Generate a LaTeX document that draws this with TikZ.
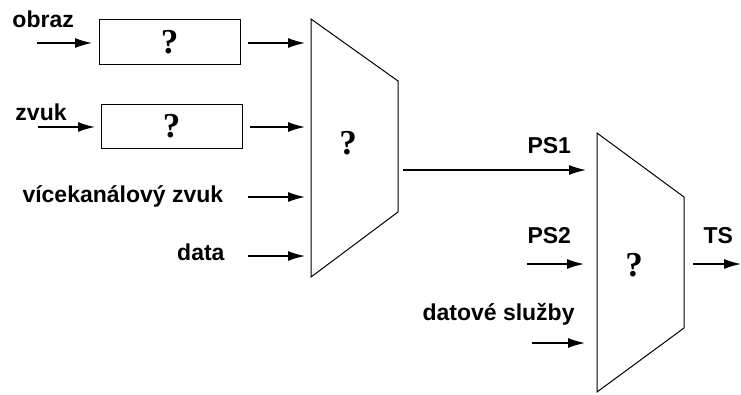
\documentclass[tikz,border=0pt]{standalone}
\usepackage{fontspec}
\setmainfont{Liberation Sans}
\newfontfamily\qfont{Liberation Serif}
\usetikzlibrary{arrows.meta}
\begin{document}
\begin{tikzpicture}[x=1pt,y=-1pt,line width=1pt,
  arr/.style={-{Latex[length=17pt,width=10pt]},line width=1.4pt},
  lbl/.style={font=\bfseries\fontsize{23}{25}\selectfont,inner sep=0pt},
  qm/.style={font=\qfont\bfseries\fontsize{35}{37}\selectfont,inner sep=0pt},
  blk/.style={draw,minimum width=141pt,minimum height=45pt,inner sep=0pt}]
\useasboundingbox (0,0) rectangle (741,394);
% blocks
\node[blk,qm] (b1) at (169.5,42) {?};
\node[blk,qm,minimum height=44pt] (b2) at (171.5,126) {?};
% mux 1
\coordinate (m1a) at (311,19);
\coordinate (m1b) at (398,81);
\coordinate (m1c) at (398,212);
\coordinate (m1d) at (311,277);
\draw (m1a) -- (m1b) -- (m1c) -- (m1d) -- cycle;
\node[qm] (m1) at (348,143) {?};
% mux 2
\coordinate (m2a) at (597,133);
\coordinate (m2b) at (684,197);
\coordinate (m2c) at (684,328);
\coordinate (m2d) at (597,392);
\draw (m2a) -- (m2b) -- (m2c) -- (m2d) -- cycle;
\node[qm] (m2) at (634,265) {?};
% arrow ends
\coordinate (i1s) at (37,43);  \coordinate (i1e) at (92,43);
\coordinate (i2s) at (38,127); \coordinate (i2e) at (95,127);
\coordinate (o1s) at (248,43); \coordinate (o1e) at (305,43);
\coordinate (o2s) at (250,127);\coordinate (o2e) at (305,127);
\coordinate (i3s) at (248,197);\coordinate (i3e) at (305,197);
\coordinate (i4s) at (248,256);\coordinate (i4e) at (305,256);
\coordinate (p1s) at (403,170);\coordinate (p1e) at (586,170);
\coordinate (p2s) at (527,264);\coordinate (p2e) at (584,264);
\coordinate (dss) at (532,343);\coordinate (dse) at (585,343);
\coordinate (tss) at (693,264);\coordinate (tse) at (741,264);
\draw[arr] (i1s) -- (i1e);
\draw[arr] (i2s) -- (i2e);
\draw[arr] (o1s) -- (o1e);
\draw[arr] (o2s) -- (o2e);
\draw[arr] (i3s) -- (i3e);
\draw[arr] (i4s) -- (i4e);
\draw[arr] (p1s) -- (p1e);
\draw[arr] (p2s) -- (p2e);
\draw[arr] (dss) -- (dse);
\draw[arr] (tss) -- (tse);
% labels
\node[lbl,anchor=base west] (lobraz) at (12,27) {obraz};
\node[lbl,anchor=base west] (lzvuk) at (15,120) {zvuk};
\node[lbl,anchor=base west] (lvk) at (22,202) {vícekanálový zvuk};
\node[lbl,anchor=base east] (ldata) at (225,260) {data};
\node[lbl,anchor=base west] (lps1) at (527,153) {PS1};
\node[lbl,anchor=base west] (lps2) at (527,243) {PS2};
\node[lbl,anchor=base west] (lds) at (422,320) {datové služby};
\node[lbl,anchor=base west] (lts) at (703,243) {TS};
\end{tikzpicture}
\end{document}
